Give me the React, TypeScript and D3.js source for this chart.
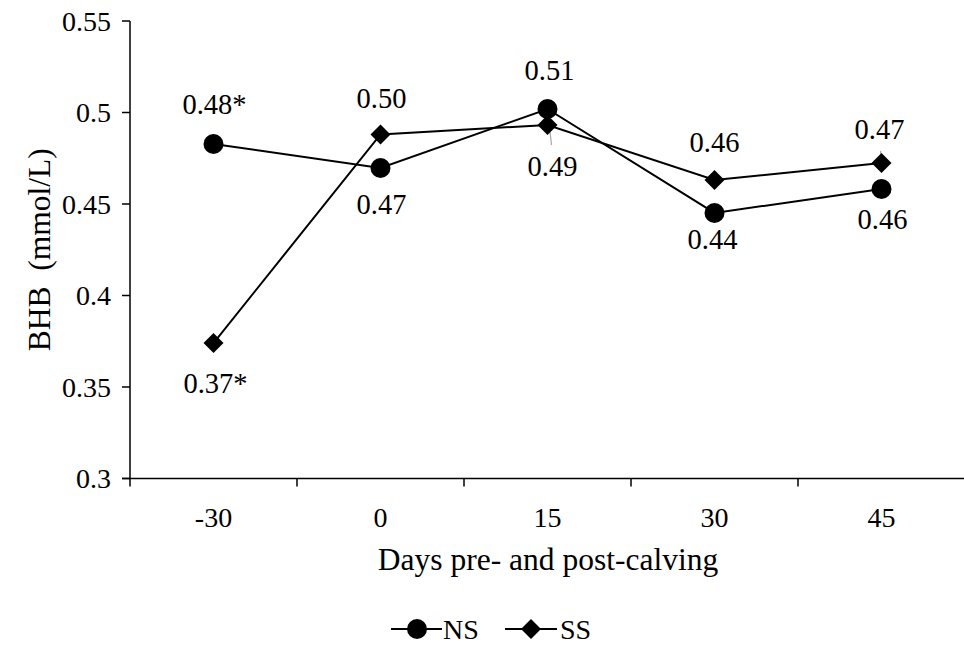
import React from "react";
import * as d3 from "d3";

const categories = ["-30", "0", "15", "30", "45"];
const nsValues = [0.4828, 0.4697, 0.5019, 0.4451, 0.4582];
const ssValues = [0.374, 0.488, 0.4932, 0.4631, 0.4724];
const nsLabels = ["0.48*", "0.47", "0.51", "0.44", "0.46"];
const ssLabels = ["0.37*", "0.50", "0.49", "0.46", "0.47"];
const yTicks = [0.3, 0.35, 0.4, 0.45, 0.5, 0.55];
const yTickLabels = ["0.3", "0.35", "0.4", "0.45", "0.5", "0.55"];
const seriesNames = ["NS", "SS"];

// label baseline offsets (layout)
const nsLabelDy = [-30, 46, -29, 36, 40];
const ssLabelDy = [50, -26, 51, -28, -24];
const nsLabelDx = [1, 1, 2, -2, 1];
const ssLabelDx = [2, 1, 5, 0, -2];

const W = 964;
const H = 646;
const FONT = "'Liberation Serif', 'Times New Roman', serif";
const FS_TICK = 28;
const FS_LABEL = 28.5;
const FS_TITLE = 31.5;
const FS_LEGEND = 28;
const LEG_Y = 629;

export default function App() {
  const x = d3.scaleBand<string>().domain(categories).range([130, 965]);
  const y = d3.scaleLinear().domain([0.3, 0.55]).range([478.5, 21]);
  const cx = (c: string) => (x(c) as number) + x.bandwidth() / 2;

  const line = d3
    .line<number>()
    .x((_, i) => cx(categories[i]))
    .y((v) => y(v));

  const diamond = (px: number, py: number, r: number) =>
    `M${px},${py - r}L${px + r},${py}L${px},${py + r}L${px - r},${py}Z`;

  const boundaries = categories.map((c) => x(c) as number).concat([965]);

  return (
    <svg
      width={W}
      height={H}
      style={{ position: "absolute", left: 0, top: 0, background: "#fff" }}
      fontFamily={FONT}
    >
      <rect x={0} y={0} width={W} height={H} fill="#fff" />
      {/* y axis */}
      <line x1={130} x2={130} y1={y(0.55)} y2={y(0.3)} stroke="#000" strokeWidth={1.5} />
      {yTicks.map((t, i) => (
        <g key={i}>
          <line x1={122} x2={130} y1={y(t)} y2={y(t)} stroke="#000" strokeWidth={1.5} />
          <text x={111} y={y(t)} dy="0.34em" textAnchor="end" fontSize={FS_TICK}>
            {yTickLabels[i]}
          </text>
        </g>
      ))}
      {/* x axis */}
      <line x1={122} x2={965} y1={y(0.3)} y2={y(0.3)} stroke="#000" strokeWidth={1.5} />
      {boundaries.map((b, i) => (
        <line key={i} x1={b} x2={b} y1={y(0.3)} y2={y(0.3) + 8} stroke="#000" strokeWidth={1.5} />
      ))}
      {categories.map((c) => (
        <text key={c} x={cx(c)} y={527} textAnchor="middle" fontSize={FS_TICK}>
          {c}
        </text>
      ))}
      <text x={548} y={570} textAnchor="middle" fontSize={FS_TITLE}>
        Days pre- and post-calving
      </text>
      <text
        transform={`translate(50,${y(0.425)}) rotate(-90)`}
        textAnchor="middle"
        fontSize={FS_TITLE}
        style={{ whiteSpace: "pre" }}
      >
        {"BHB  (mmol/L)"}
      </text>

      {/* leader lines */}
      <line x1={cx("15") + 2} x2={cx("15") + 4} y1={y(ssValues[2]) + 2} y2={y(ssValues[2]) + 20} stroke="#a6a6a6" strokeWidth={1.2} />
      <line x1={cx("45") - 1} x2={cx("45")} y1={y(ssValues[4]) - 12} y2={y(ssValues[4]) - 2} stroke="#a6a6a6" strokeWidth={1.2} />

      {/* lines */}
      <path d={line(nsValues) || ""} fill="none" stroke="#000" strokeWidth={2} />
      <path d={line(ssValues) || ""} fill="none" stroke="#000" strokeWidth={2} />

      {/* markers */}
      {nsValues.map((v, i) => (
        <circle key={i} cx={cx(categories[i])} cy={y(v)} r={10} fill="#000" />
      ))}
      {ssValues.map((v, i) => (
        <path key={i} d={diamond(cx(categories[i]), y(v), 10)} fill="#000" />
      ))}

      {/* data labels */}
      {nsLabels.map((l, i) => (
        <text key={"n" + i} x={cx(categories[i]) + nsLabelDx[i]} y={y(nsValues[i]) + nsLabelDy[i]} textAnchor="middle" fontSize={FS_LABEL}>
          {l}
        </text>
      ))}
      {ssLabels.map((l, i) => (
        <text key={"s" + i} x={cx(categories[i]) + ssLabelDx[i]} y={y(ssValues[i]) + ssLabelDy[i]} textAnchor="middle" fontSize={FS_LABEL}>
          {l}
        </text>
      ))}

      {/* legend */}
      <g>
        <line x1={391} x2={442} y1={LEG_Y} y2={LEG_Y} stroke="#000" strokeWidth={2} />
        <circle cx={417} cy={LEG_Y} r={10} fill="#000" />
        <text x={443} y={LEG_Y} dy="0.34em" fontSize={FS_LEGEND}>
          {seriesNames[0]}
        </text>
        <line x1={505} x2={557} y1={LEG_Y} y2={LEG_Y} stroke="#000" strokeWidth={2} />
        <path d={diamond(531, LEG_Y, 10)} fill="#000" />
        <text x={560} y={LEG_Y} dy="0.34em" fontSize={FS_LEGEND}>
          {seriesNames[1]}
        </text>
      </g>
    </svg>
  );
}
